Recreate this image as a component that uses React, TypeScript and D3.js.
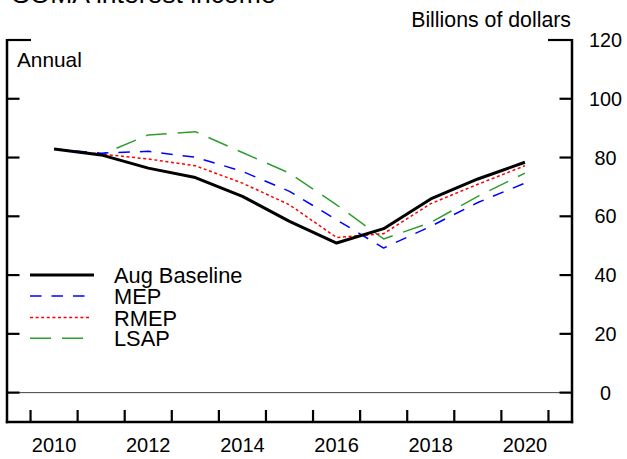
import React from "react";
import * as d3 from "d3";

const years = [2010, 2011, 2012, 2013, 2014, 2015, 2016, 2017, 2018, 2019, 2020];
const augBaseline = [82.9, 80.9, 76.4, 73.2, 66.8, 58.3, 50.9, 55.8, 65.9, 72.7, 78.4];
const mep = [82.9, 81.5, 82.1, 80.1, 75.3, 68.5, 58.8, 49.2, 56.6, 64.7, 71.3];
const rmep = [82.9, 81.2, 79.5, 77.2, 71.3, 63.9, 52.8, 54.1, 64.3, 70.9, 77.2];
const lsap = [82.9, 81.0, 87.7, 88.8, 81.7, 74.7, 63.9, 52.3, 57.9, 66.8, 74.7];
const yTicks = [0, 20, 40, 60, 80, 100, 120];
const xTickYears = [2010, 2011, 2012, 2013, 2014, 2015, 2016, 2017, 2018, 2019, 2020, 2021];
const xLabelYears = [2010, 2012, 2014, 2016, 2018, 2020];
const seriesNames = ["Aug Baseline", "MEP", "RMEP", "LSAP"];

const W = 627;
const H = 459;
const FONT = "'Liberation Sans', Arial, Helvetica, sans-serif";

export default function App() {
  const left = 7;
  const right = 572;
  const top = 40;
  const bottom = 422;
  const x = d3.scaleLinear().domain([2009.5, 2021.5]).range([left, right]);
  const y = d3.scaleLinear().domain([-10, 120]).range([bottom, top]);

  const series = [
    { name: seriesNames[0], values: augBaseline, color: "#000000", width: 3, dash: "", legendLen: 64 },
    { name: seriesNames[1], values: mep, color: "#0000ff", width: 1.5, dash: "11.5,10", legendLen: 55 },
    { name: seriesNames[2], values: rmep, color: "#ff0000", width: 1.5, dash: "3,2.6", legendLen: 60 },
    { name: seriesNames[3], values: lsap, color: "#2f9e2f", width: 1.5, dash: "21,11", legendLen: 55 },
  ];

  const line = d3
    .line<[number, number]>()
    .x((d) => x(d[0] + 0.5))
    .y((d) => y(d[1]));

  const legendY = [275, 296, 317.5, 338.3];

  return (
    <svg width={W} height={H} style={{ position: "absolute", left: 0, top: 0 }} fontFamily={FONT}>
      <rect width={W} height={H} fill="#fff" />
      <text x={12} y={3} fontSize={26.5}>SOMA interest income</text>
      <text x={571} y={27} fontSize={21.3} textAnchor="end">Billions of dollars</text>
      <text x={17} y={66.5} fontSize={20.8}>Annual</text>

      {/* zero line */}
      <line x1={left} x2={right} y1={y(0)} y2={y(0)} stroke="#444" strokeWidth={1} />

      {/* axes */}
      <line x1={left} x2={left} y1={top - 1} y2={bottom + 1.3} stroke="#000" strokeWidth={2.5} />
      <line x1={right} x2={right} y1={top - 1} y2={bottom + 1.3} stroke="#000" strokeWidth={2.5} />
      <line x1={left - 1.2} x2={right + 1.2} y1={bottom} y2={bottom} stroke="#000" strokeWidth={2.7} />

      {yTicks.map((t) => {
        const len = t === 120 ? 24 : 12.5;
        return (
          <g key={t}>
            <line x1={left} x2={left + len} y1={y(t)} y2={y(t)} stroke="#000" strokeWidth={2.2} />
            <line x1={right - len} x2={right} y1={y(t)} y2={y(t)} stroke="#000" strokeWidth={2.2} />
            <text x={605.5} y={y(t) + 7} fontSize={19.8} textAnchor="middle">{t}</text>
          </g>
        );
      })}

      {xTickYears.map((yr) => (
        <line key={yr} x1={x(yr)} x2={x(yr)} y1={bottom} y2={bottom - 12} stroke="#000" strokeWidth={2.2} />
      ))}
      {xLabelYears.map((yr) => (
        <text key={yr} x={x(yr + 0.5)} y={452} fontSize={20} textAnchor="middle">{yr}</text>
      ))}

      {series.slice().reverse().map((s) => (
        <path
          key={s.name}
          d={line(years.map((yr, i) => [yr, s.values[i]] as [number, number])) || ""}
          fill="none"
          stroke={s.color}
          strokeWidth={s.width}
          strokeDasharray={s.dash || undefined}
          strokeLinejoin="round"
        />
      ))}

      {series.map((s, i) => (
        <g key={s.name}>
          <line x1={30} x2={30 + s.legendLen} y1={legendY[i]} y2={legendY[i]} stroke={s.color} strokeWidth={s.width} strokeDasharray={s.dash || undefined} />
          <text x={114} y={legendY[i] + 8} fontSize={21.8}>{s.name}</text>
        </g>
      ))}
    </svg>
  );
}
